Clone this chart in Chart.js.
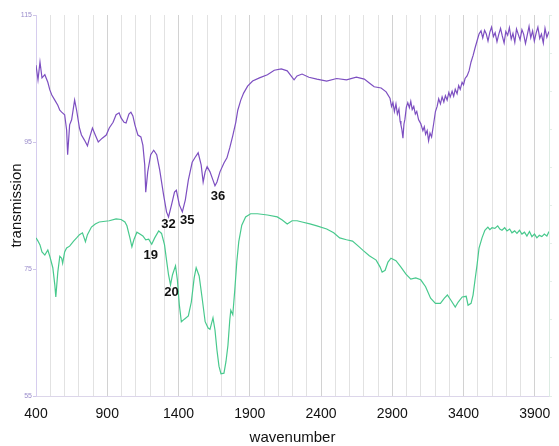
<!DOCTYPE html>
<html>
<head>
<meta charset="utf-8">
<script src="https://cdn.jsdelivr.net/npm/chart.js@4/dist/chart.umd.min.js"></script>
<style>
  html, body { margin: 0; padding: 0; background: #fff; }
  #wrap { width: 559px; height: 446px; }
</style>
</head>
<body>
<div id="wrap"><canvas id="irChart"></canvas></div>
<script>
// Purple spectrum (upper trace)
const purpleWn = [400, 414, 428, 442, 462, 483, 497, 511, 532, 553, 567, 580, 601, 615, 622, 636, 650, 671, 685, 705,
  719, 740, 761, 775, 796, 816, 837, 865, 893, 914, 941, 962, 983, 997, 1018, 1032, 1052, 1066, 1080, 1094,
  1115, 1136, 1150, 1163, 1170, 1184, 1205, 1226, 1247, 1268, 1295, 1316, 1330, 1351, 1372, 1385, 1406, 1427, 1448, 1469,
  1496, 1517, 1538, 1559, 1573, 1587, 1601, 1621, 1642, 1656, 1670, 1691, 1719, 1740, 1760, 1781, 1802, 1816, 1837, 1857,
  1885, 1920, 1968, 2024, 2072, 2121, 2163, 2190, 2211, 2232, 2267, 2315, 2371, 2440, 2510, 2579, 2648, 2704, 2739, 2773,
  2822, 2857, 2884, 2895, 2905, 2915, 2926, 2936, 2947, 2955, 2961, 2968, 2975, 2982, 2989, 2999, 3009, 3020, 3030, 3040,
  3051, 3062, 3072, 3085, 3100, 3115, 3125, 3134, 3145, 3155, 3165, 3176, 3190, 3203, 3215, 3226, 3238, 3250, 3262, 3273,
  3285, 3297, 3307, 3320, 3331, 3342, 3355, 3366, 3377, 3390, 3400, 3411, 3425, 3439, 3453, 3467, 3481, 3495, 3509, 3523,
  3535, 3548, 3560, 3572, 3585, 3597, 3610, 3622, 3635, 3647, 3660, 3672, 3685, 3697, 3710, 3722, 3735, 3747, 3760, 3772,
  3785, 3797, 3810, 3822, 3835, 3847, 3860, 3872, 3885, 3897, 3910, 3922, 3935, 3947, 3960, 3972, 3985, 4000];
const purpleVal = [107.1, 104.8, 107.6, 105.1, 105.6, 104.4, 103.2, 102.4, 101.6, 100.8, 100.0, 99.7, 99.3, 96.9, 93.0, 97.7, 98.5, 101.6, 100.0, 97.2,
  96.1, 95.3, 94.4, 95.6, 97.2, 96.1, 95.0, 95.6, 96.1, 97.2, 98.1, 99.3, 99.6, 98.8, 98.1, 98.0, 99.4, 99.7, 99.1, 97.7,
  96.1, 95.8, 94.5, 91.4, 87.1, 90.3, 93.0, 93.7, 93.0, 90.6, 86.7, 84.0, 83.2, 85.1, 87.1, 87.4, 85.1, 84.0, 85.9, 89.0,
  91.8, 92.6, 93.3, 91.4, 88.7, 90.3, 91.1, 90.3, 89.0, 88.1, 88.7, 90.3, 91.7, 92.5, 94.1, 96.0, 98.1, 100.0, 101.6, 102.7,
  103.8, 104.6, 105.1, 105.6, 106.3, 106.5, 106.2, 105.4, 104.8, 105.4, 105.7, 105.2, 104.9, 104.6, 105.0, 104.8, 105.2, 104.9, 104.3, 103.7,
  103.5, 102.9, 101.9, 100.6, 101.2, 99.8, 101.0, 99.4, 100.2, 98.3, 97.7, 96.9, 95.6, 97.8, 98.6, 100.5, 101.2, 100.4, 101.4, 100.1,
  100.6, 99.4, 99.8, 98.5, 97.9, 96.8, 97.4, 96.2, 96.8, 95.2, 96.4, 95.8, 97.8, 99.8, 100.6, 101.8, 101.0, 102.1, 101.3, 102.3,
  101.6, 102.8, 102.1, 103.0, 102.2, 103.3, 102.6, 103.9, 103.3, 104.4, 104.0, 105.0, 105.4, 106.2, 107.6, 108.6, 109.8, 110.9, 112.0, 112.5,
  111.4, 112.6, 112.0, 110.9, 112.3, 113.1, 111.6, 112.2, 110.8, 111.9, 112.9, 111.7, 110.6, 112.4, 111.8, 113.0, 111.2, 112.1, 110.7, 112.8,
  111.9, 111.1, 112.7, 112.0, 110.5, 111.8, 113.2, 111.4, 112.5, 110.9, 112.2, 113.1, 111.3, 112.0, 110.6, 112.9, 111.5, 112.4];

// Green spectrum (lower trace)
const greenWn = [400, 414, 428, 442, 462, 483, 497, 518, 532, 539, 553, 567, 580, 587, 601, 615, 636, 664, 685, 705,
  726, 747, 761, 789, 816, 844, 914, 962, 997, 1024, 1038, 1059, 1073, 1087, 1108, 1129, 1150, 1170, 1191, 1212,
  1233, 1261, 1281, 1302, 1316, 1330, 1344, 1358, 1379, 1392, 1406, 1420, 1441, 1469, 1490, 1510, 1524, 1545, 1566, 1587,
  1608, 1621, 1642, 1656, 1670, 1684, 1698, 1719, 1733, 1747, 1760, 1767, 1781, 1795, 1809, 1823, 1844, 1871, 1906, 1954,
  2024, 2093, 2128, 2163, 2197, 2232, 2267, 2322, 2371, 2440, 2489, 2531, 2579, 2621, 2662, 2697, 2739, 2787, 2815, 2829,
  2850, 2870, 2891, 2926, 2961, 2996, 3030, 3065, 3100, 3134, 3169, 3203, 3238, 3266, 3287, 3314, 3342, 3363, 3391, 3419,
  3432, 3453, 3467, 3481, 3495, 3509, 3530, 3550, 3571, 3585, 3600, 3620, 3640, 3655, 3670, 3689, 3705, 3724, 3740, 3759,
  3775, 3793, 3810, 3828, 3845, 3863, 3880, 3898, 3915, 3932, 3950, 3967, 3985, 4000];
const greenVal = [79.9, 79.4, 78.8, 77.7, 77.2, 78.0, 77.0, 75.2, 72.5, 70.6, 74.5, 77.0, 76.7, 75.9, 77.7, 78.3, 78.6, 79.4, 79.9, 80.4,
  80.7, 79.3, 80.4, 81.6, 82.1, 82.4, 82.6, 82.9, 82.8, 82.4, 81.8, 79.9, 78.5, 79.6, 80.8, 80.5, 80.2, 79.6, 79.7, 78.9,
  79.9, 81.0, 80.6, 78.8, 76.4, 74.1, 72.5, 74.1, 75.5, 73.3, 69.3, 66.7, 67.1, 67.6, 69.8, 73.6, 75.2, 73.9, 70.4, 66.7,
  65.7, 65.5, 67.3, 65.4, 62.2, 59.7, 58.5, 58.6, 60.4, 63.0, 67.0, 68.5, 67.8, 71.7, 76.1, 79.3, 81.9, 83.2, 83.7, 83.7,
  83.5, 83.2, 82.7, 82.1, 82.6, 82.6, 82.4, 82.1, 81.8, 81.3, 80.7, 79.9, 79.6, 79.4, 78.6, 77.9, 77.1, 76.4, 75.3, 74.5,
  74.8, 76.1, 76.7, 76.3, 75.3, 74.2, 73.4, 73.6, 73.3, 72.2, 70.4, 69.6, 69.6, 70.4, 70.9, 70.0, 69.0, 69.8, 70.6, 70.7,
  69.3, 69.6, 70.9, 73.3, 75.6, 78.3, 79.9, 81.1, 81.6, 81.2, 81.5, 81.4, 81.8, 81.3, 81.1, 81.5, 81.0, 81.3, 80.7, 81.0,
  80.6, 81.1, 80.5, 80.8, 80.2, 80.9, 80.1, 80.5, 79.9, 80.3, 80.1, 80.5, 80.2, 80.9];

// Peak labels
const peakLabels = ['36', '32', '35', '19', '20'];
const peakWn = [1677, 1330, 1462, 1205, 1351];
const peakVal = [86.4, 82.0, 82.6, 77.2, 71.3];

// Axis ticks
const yTicks = [55, 75, 95, 115];
const xLabelTicks = [400, 900, 1400, 1900, 2400, 2900, 3400, 3900];

// Draw peak numbers at their data positions
const peakLabelPlugin = {
  id: 'peakLabels',
  afterDatasetsDraw(chart) {
    const { ctx, scales } = chart;
    ctx.save();
    ctx.font = 'bold 13px "Liberation Sans", Arial, sans-serif';
    ctx.fillStyle = '#111';
    ctx.textAlign = 'center';
    ctx.textBaseline = 'middle';
    peakLabels.forEach((txt, i) => {
      ctx.fillText(txt, scales.x.getPixelForValue(peakWn[i]), scales.y.getPixelForValue(peakVal[i]));
    });
    ctx.restore();
  }
};

const ctx = document.getElementById('irChart').getContext('2d');

new Chart(ctx, {
  type: 'line',
  data: {
    datasets: [
      {
        label: 'purple',
        data: purpleWn.map((w, i) => ({ x: w, y: purpleVal[i] })),
        borderColor: '#7d4fc1',
        borderWidth: 1.2,
        pointRadius: 0,
        tension: 0
      },
      {
        label: 'green',
        data: greenWn.map((w, i) => ({ x: w, y: greenVal[i] })),
        borderColor: '#48c98d',
        borderWidth: 1.2,
        pointRadius: 0,
        tension: 0
      }
    ]
  },
  options: {
    responsive: true,
    maintainAspectRatio: false,
    animation: false,
    layout: { padding: { top: 15, left: 0, right: 0, bottom: 0 } },
    plugins: {
      legend: { display: false },
      tooltip: { enabled: false }
    },
    scales: {
      x: {
        type: 'linear',
        min: 400,
        max: 4000,
        afterFit: s => { s.height = 50; },
        afterBuildTicks: s => {
          s.ticks = [];
          for (let v = 400; v <= 4000; v += 100) s.ticks.push({ value: v });
        },
        ticks: {
          autoSkip: false,
          maxRotation: 0,
          padding: 10,
          color: '#111',
          font: { family: '"Liberation Sans", Arial, sans-serif', size: 14 },
          callback: v => xLabelTicks.includes(v) ? String(v) : ''
        },
        grid: {
          drawTicks: false,
          color: ctx => (xLabelTicks.includes(ctx.tick && ctx.tick.value) ? '#d2d2d2' : '#e2e2e2'),
          lineWidth: 1
        },
        border: { color: '#dcd6ea' },
        title: {
          display: true,
          text: 'wavenumber',
          color: '#111',
          font: { family: '"Liberation Sans", Arial, sans-serif', size: 15, lineHeight: 1.1 },
          padding: { top: 0, bottom: 0 }
        }
      },
      y: {
        min: 55,
        max: 115,
        afterFit: s => { s.width = 36; },
        afterBuildTicks: s => { s.ticks = yTicks.map(v => ({ value: v })); },
        ticks: {
          padding: 1,
          color: '#9a8ccb',
          font: { family: '"Liberation Sans", Arial, sans-serif', size: 7 }
        },
        grid: { drawOnChartArea: false, tickLength: 3, color: '#cfc6e8' },
        border: { color: '#d6cdee' },
        title: {
          display: true,
          text: 'transmission',
          color: '#111',
          font: { family: '"Liberation Sans", Arial, sans-serif', size: 15, lineHeight: 1.2 },
          padding: { top: 8, bottom: 0 }
        }
      },
      y2: {
        position: 'right',
        min: 0,
        max: 100,
        afterFit: s => { s.width = 4; },
        ticks: { display: false },
        grid: { drawOnChartArea: false, tickLength: 3, color: '#e3eee8' },
        border: { color: '#dcece3' }
      }
    }
  },
  plugins: [peakLabelPlugin]
});
</script>
</body>
</html>
